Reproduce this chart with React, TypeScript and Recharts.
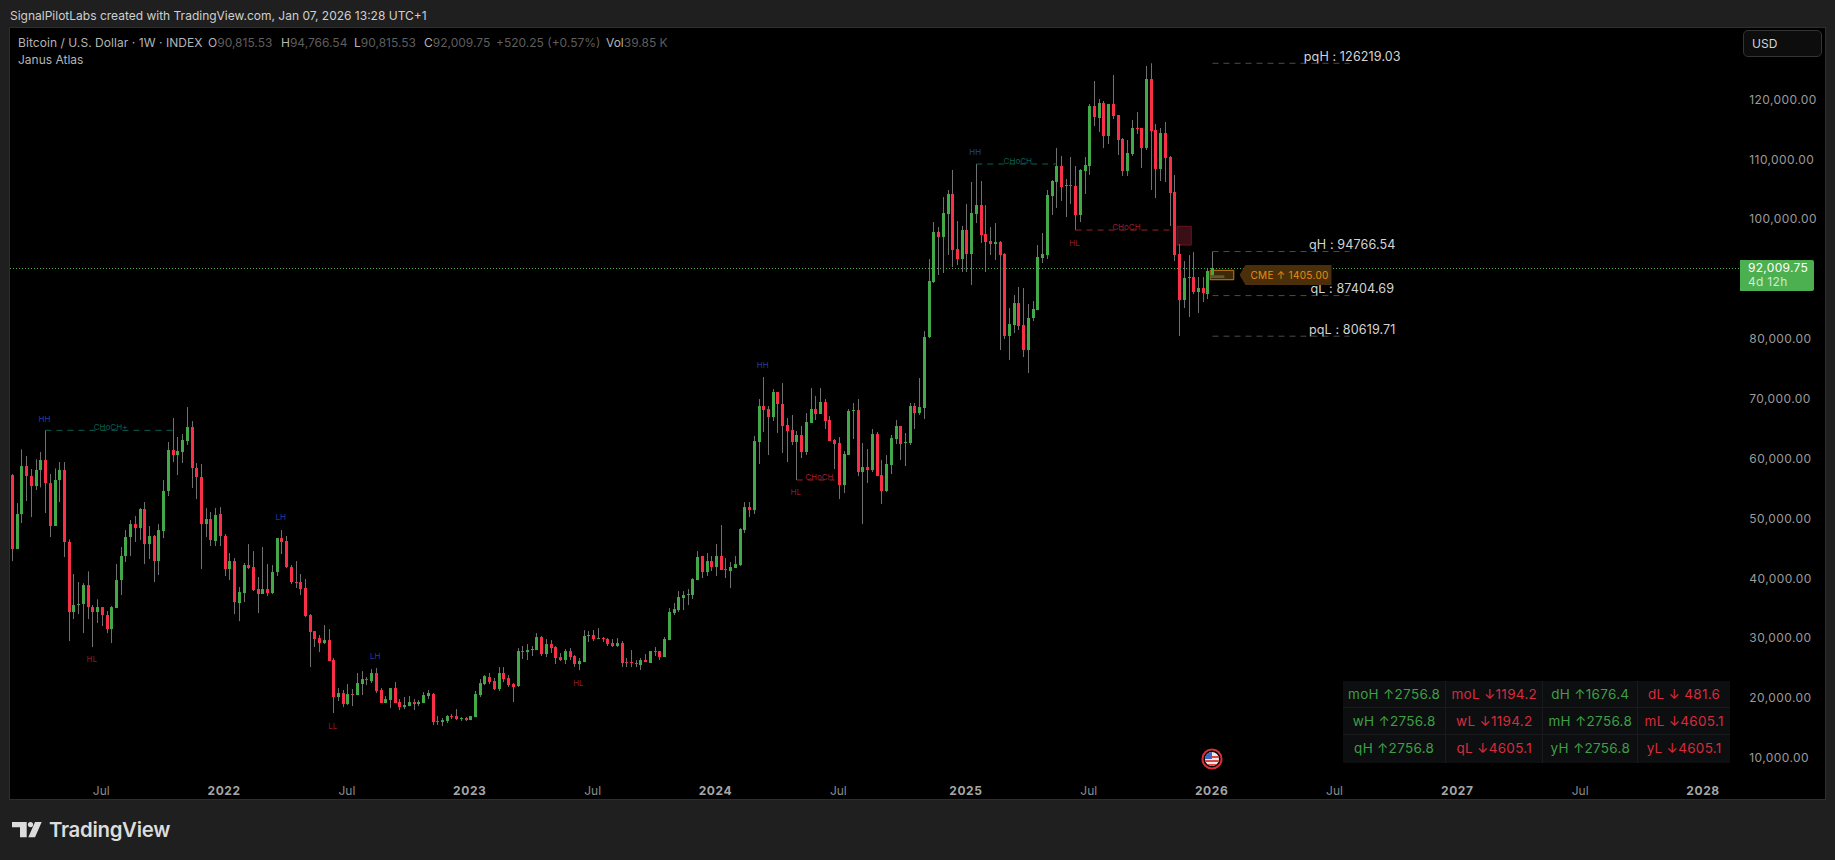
import { Bar, ComposedChart, ReferenceArea, ReferenceDot, ReferenceLine, XAxis, YAxis } from "recharts"

const FONT = "Inter, 'Noto Sans', sans-serif"

const opens = [
  57420, 45055, 50900, 58920, 57250, 55580, 58260, 59930, 56080, 48900,
  56590, 58260, 46230, 34530, 35700, 35870, 39040, 35360, 34530, 35360,
  34030, 31690, 35200, 39880, 43890, 47060, 49230, 48560, 51740, 45890,
  47230, 43050, 48060, 54750, 61600, 60760, 61260, 63100, 65440, 58590,
  57090, 49230, 50070, 46400, 50900, 47230, 41710, 43050, 36030, 37700,
  42380, 42050, 38370, 37540, 38370, 37700, 41210, 46890, 46400, 42050,
  39540, 39540, 38540, 34030, 31350, 30180, 29350, 29850, 26510, 20325,
  20990, 19160, 20830, 20660, 22500, 23330, 23000, 24340, 21500, 19320,
  19824, 21830, 19490, 18650, 18820, 19490, 19160, 19320, 20490, 20830,
  16320, 16150, 16320, 17150, 17150, 16650, 16820, 16480, 16980, 20660,
  22500, 23670, 23000, 21660, 24340, 23500, 22500, 22160, 28010, 27840,
  28180, 28180, 30350, 27510, 29180, 28680, 27010, 26510, 28010, 27180,
  25840, 26170, 30520, 30690, 30020, 30180, 30020, 29350, 28850, 29350,
  26170, 26170, 26010, 25670, 26510, 26010, 28010, 28010, 27010, 29850,
  34360, 34860, 36870, 37370, 37370, 39875, 43890, 41210, 43050, 42050,
  43890, 41710, 41380, 41880, 42380, 48230, 52070, 51570, 62940, 68950,
  68450, 67110, 71290, 69290, 65780, 64940, 62940, 64110, 61270, 66110,
  68450, 67620, 69620, 66610, 63270, 62770, 55750, 60760, 68120, 68280,
  57920, 58760, 58260, 64270, 57420, 54750, 59090, 63440, 65610, 62770,
  62770, 68950, 67780, 68620, 80480, 89670, 98030, 97190, 101030, 104380,
  95180, 93510, 98360, 94350, 101030, 102540, 97690, 96520, 96020, 96360,
  94350, 80650, 82480, 86160, 82480, 78310, 83660, 84990, 93680, 94180,
  104040, 106380, 109050, 105710, 105880, 105710, 100870, 108220, 109050, 119080,
  117080, 119580, 114070, 119420, 117580, 113570, 108220, 111060, 115410, 115410,
  112060, 123590, 115070, 108550, 114570, 110560, 104710, 94350, 86660, 90340,
  90510, 88000, 88670, 87670, 90815.53,
]

const highs = [
  57590, 52740, 61710, 60600, 58420, 60040, 61260, 64890, 57590, 58530,
  59590, 59590, 46670, 40880, 39540, 39370, 41320, 35700, 36650, 35360,
  34700, 35530, 42550, 45390, 48230, 49900, 50570, 51910, 52910, 48900,
  47400, 49230, 56590, 62940, 66950, 63770, 64270, 68790, 66440, 59430,
  59260, 51910, 51240, 51910, 52070, 47560, 44390, 43550, 38710, 42720,
  45890, 44720, 40380, 45390, 42550, 42380, 46890, 48230, 47230, 42380,
  43050, 40880, 40040, 34190, 31350, 30690, 32360, 31690, 26840, 21830,
  21500, 22500, 21660, 24340, 24670, 23670, 25000, 25170, 21830, 20490,
  21830, 22830, 19990, 20330, 20490, 19990, 19820, 21160, 21500, 20990,
  17150, 16820, 17320, 17480, 18320, 16980, 16980, 17150, 21330, 23330,
  24000, 24340, 23500, 25340, 25340, 24000, 22660, 28510, 28850, 29180,
  28850, 31020, 30520, 30020, 29850, 28850, 27680, 28350, 28510, 27340,
  26840, 31520, 31350, 31520, 31850, 30350, 30180, 30020, 30180, 29680,
  26840, 28180, 26510, 26840, 27510, 28010, 28680, 28010, 30350, 35200,
  36030, 38040, 38040, 38370, 40210, 44720, 43890, 44390, 43890, 45890,
  49070, 43550, 42880, 43890, 48560, 52910, 52910, 63940, 70120, 73800,
  68950, 71790, 71290, 72800, 66950, 67450, 64770, 65610, 67780, 71960,
  70620, 71960, 70120, 67280, 63440, 63770, 61430, 68450, 69450, 70120,
  62770, 61770, 65110, 64610, 59930, 60760, 64110, 66610, 65610, 64440,
  69450, 69450, 73630, 81480, 93510, 99700, 98860, 103870, 105040, 108390,
  99860, 99030, 102700, 106380, 109390, 106550, 102540, 98860, 99530, 96520,
  94520, 85330, 87500, 88840, 88670, 86000, 86500, 95850, 97860, 105040,
  106720, 112060, 110720, 106880, 110560, 109050, 108550, 110560, 119420, 123260,
  120250, 119920, 119420, 124260, 117580, 113730, 113400, 116740, 118080, 115410,
  125770, 126219, 116070, 115410, 116410, 110730, 107550, 96020, 93180, 94180,
  94680, 90510, 90510, 92010, 94766.54,
]

const lows = [
  43050, 45055, 49400, 53080, 50400, 54910, 55360, 51070, 47060, 48900,
  52910, 43720, 29680, 33360, 34190, 31020, 33360, 28680, 32690, 32190,
  31020, 29350, 35200, 37370, 42880, 43890, 46230, 46560, 42550, 43380,
  39540, 40710, 46890, 53910, 59590, 57420, 59430, 62430, 55250, 53410,
  41710, 47060, 45560, 45560, 45560, 40540, 39880, 34190, 33020, 36200,
  41710, 38040, 34360, 37540, 37200, 37540, 40540, 44220, 41880, 39210,
  38540, 37370, 33690, 25340, 28680, 27840, 29180, 26340, 17650, 19660,
  18650, 18990, 18820, 20660, 20660, 22330, 22670, 20990, 19320, 19320,
  18490, 19320, 18150, 18320, 18820, 18150, 18820, 19320, 19990, 15650,
  15650, 15480, 15980, 16650, 16480, 16310, 16310, 16480, 16980, 20330,
  22330, 22500, 21490, 21330, 22830, 22000, 19490, 22000, 26670, 26510,
  27180, 28180, 27180, 27010, 27680, 25840, 26340, 25840, 26510, 25340,
  24840, 26170, 29520, 29680, 30020, 29520, 28850, 28680, 28680, 25340,
  25340, 25340, 25340, 24840, 26170, 26010, 27180, 26510, 27010, 29850,
  34030, 34530, 34860, 35700, 36700, 39880, 40210, 40540, 41380, 40540,
  41550, 40210, 38540, 41880, 42220, 47730, 50400, 50900, 59260, 64610,
  60760, 66450, 64440, 61100, 59590, 62430, 56590, 60260, 60760, 66110,
  66610, 67620, 65110, 63100, 58420, 53410, 54410, 60760, 63440, 57250,
  49230, 56090, 57920, 57250, 52580, 54580, 57590, 62600, 59930, 58930,
  62430, 65110, 67450, 66780, 80310, 89500, 90840, 91180, 94180, 92180,
  92510, 91340, 91340, 89170, 99530, 96190, 91340, 94180, 93350, 78310,
  80150, 76640, 81150, 81650, 77140, 74470, 83150, 84990, 92850, 93510,
  100870, 102040, 103210, 100530, 102700, 98360, 99700, 104380, 107550, 115740,
  114740, 112060, 112730, 116910, 110890, 107380, 107380, 110730, 114400, 108720,
  111730, 105050, 103710, 106550, 106380, 99030, 93180, 80650, 85330, 83820,
  87670, 84490, 86330, 86830, 90815.53,
]

const closes = [
  45055, 50900, 58920, 57250, 55580, 58260, 59930, 56080, 48900, 56590,
  58260, 46230, 34530, 35700, 35870, 39040, 35360, 34530, 35360, 34030,
  31690, 35360, 39880, 43890, 47060, 49230, 48560, 51740, 45890, 47230,
  43050, 48230, 54750, 61600, 60760, 61430, 63270, 65440, 58590, 57090,
  49230, 50070, 46560, 50740, 47230, 41710, 43050, 36200, 37870, 42380,
  41880, 38200, 37540, 38370, 37700, 41210, 46890, 46230, 42050, 39540,
  39370, 38370, 33860, 31190, 30020, 29350, 29850, 26340, 20325, 20990,
  19160, 20830, 20660, 22670, 23330, 23170, 24340, 21330, 19320, 19990,
  21830, 19320, 18650, 18990, 19490, 19160, 19490, 20660, 20990, 16150,
  16150, 16480, 17150, 16980, 16650, 16820, 16480, 17150, 20830, 22660,
  23830, 22830, 21660, 24340, 23330, 22330, 22000, 28010, 27840, 28180,
  28350, 30350, 27510, 29180, 28510, 26840, 26510, 28010, 27010, 25840,
  26340, 30520, 30690, 30020, 30180, 30020, 29180, 28850, 29350, 26010,
  26010, 26010, 25840, 26510, 26170, 28010, 27840, 27010, 30020, 34530,
  35030, 37030, 37370, 37540, 40040, 43720, 41210, 43050, 42050, 43890,
  41550, 41550, 42050, 42550, 48400, 52070, 51570, 63100, 68950, 68280,
  67110, 71290, 69290, 65610, 64770, 62940, 64110, 61270, 66280, 68450,
  67620, 69620, 66450, 63100, 62600, 55750, 60930, 68120, 68280, 57920,
  58760, 58260, 64270, 57250, 54750, 59260, 63600, 65610, 62600, 62940,
  68950, 67780, 68780, 80480, 89840, 98030, 97190, 101200, 104380, 95020,
  93510, 98360, 94350, 101200, 102540, 97520, 96360, 96020, 96360, 94180,
  80650, 82650, 86160, 82320, 78310, 83660, 85160, 93850, 94350, 104210,
  106550, 109050, 105550, 105880, 105710, 100870, 108390, 109220, 119080, 117240,
  119580, 114070, 119420, 117410, 113400, 108220, 111230, 115410, 115240, 112060,
  123590, 114900, 108550, 114570, 110390, 104540, 94180, 86660, 90340, 90510,
  88000, 88670, 87830, 91510, 92009.75,
]

const priceTicks = [10000, 20000, 30000, 40000, 50000, 60000, 70000, 80000, 90000, 100000, 110000, 120000]
const timeTicks = ["2021-07-05", "2022-01-03", "2022-07-04", "2023-01-02", "2023-07-03", "2024-01-01", "2024-07-01", "2025-01-06", "2025-07-07", "2026-01-05", "2026-07-06", "2027-01-04", "2027-07-05", "2028-01-03"]
const timeLabels = ["Jul", "2022", "Jul", "2023", "Jul", "2024", "Jul", "2025", "Jul", "2026", "Jul", "2027", "Jul", "2028"]

const lastPrice = 92009.75

// bars are 1-based positions in the candle list
const swingLabels = [
  { bar: 8, price: 66830, text: "HH", color: "#1f3fa8" },
  { bar: 18, price: 26720, text: "HL", color: "#8f1d2a" },
  { bar: 58, price: 50350, text: "LH", color: "#1f3fa8" },
  { bar: 69, price: 15530, text: "LL", color: "#8f1d2a" },
  { bar: 78, price: 27220, text: "LH", color: "#1f3fa8" },
  { bar: 121, price: 22710, text: "HL", color: "#8f1d2a" },
  { bar: 160, price: 75750, text: "HH", color: "#1f3fa8" },
  { bar: 167, price: 54530, text: "HL", color: "#8f1d2a" },
  { bar: 205, price: 111440, text: "HH", color: "#1f3fa8" },
  { bar: 226, price: 96240, text: "HL", color: "#8f1d2a" },
]

const chochLines = [
  { from: 8, to: 35, price: 64890, textBar: 22, textPrice: 65490, text: "CHoCH+", color: "#0b5f50" },
  { from: 167, to: 175, price: 56590, textBar: 172, textPrice: 57140, text: "CHoCH", color: "#9a1f2d" },
  { from: 205, to: 222, price: 109390, textBar: 214, textPrice: 109940, text: "CHoCH", color: "#0b5f50" },
  { from: 226, to: 246, price: 98360, textBar: 237, textPrice: 98910, text: "CHoCH", color: "#9a1f2d" },
]

const levels = [
  { price: 126219.03, text: "pqH : 126219.03" },
  { price: 94766.54, text: "qH : 94766.54" },
  { price: 87404.69, text: "qL : 87404.69" },
  { price: 80619.71, text: "pqL : 80619.71" },
]

const statRows = [
  ["moH ↑2756.8", "moL ↓1194.2", "dH ↑1676.4", "dL ↓ 481.6"],
  ["wH ↑2756.8", "wL ↓1194.2", "mH ↑2756.8", "mL ↓4605.1"],
  ["qH ↑2756.8", "qL ↓4605.1", "yH ↑2756.8", "yL ↓4605.1"],
]

const weeks: string[] = []
for (let i = 0; i < 366; i++) {
  weeks.push(new Date(Date.UTC(2021, 1, 22 + i * 7)).toISOString().slice(0, 10))
}

const rows = weeks.map((date, i) =>
  i < closes.length
    ? {
        date,
        open: opens[i],
        close: closes[i],
        wick: [lows[i], highs[i]],
        body: [Math.min(opens[i], closes[i]), Math.max(opens[i], closes[i])],
      }
    : { date },
)

const weekOf = (bar: number) => weeks[bar - 1]

function Wick(props: any) {
  if (props.height == null || !props.payload.wick) return null
  return <rect x={Math.round(props.x)} y={props.y} width={1} height={Math.max(props.height, 1)} fill="#707070" />
}

function Body(props: any) {
  if (props.height == null || !props.payload.body) return null
  const up = props.payload.close >= props.payload.open
  return <rect x={Math.round(props.x)} y={props.y} width={3} height={Math.max(props.height, 1)} fill={up ? "#43a847" : "#f92f47"} />
}

function TimeTick({ x, y, payload, index }: any) {
  const label = timeLabels[index]
  const isYear = label !== "Jul"
  return (
    <text x={x - 0.9} y={y + 12} textAnchor="middle" fontFamily={FONT} fontSize={12} letterSpacing={isYear ? 0.6 : 0} fontWeight={isYear ? 700 : 400} fill={isYear ? "#a6a6a6" : "#8b8b8b"} data-date={payload.value}>
      {label}
    </text>
  )
}

const absolute = (left: number, top: number, extra = {}) => ({ position: "absolute" as const, left, top, whiteSpace: "nowrap" as const, ...extra })

function LegendLine() {
  const label = { color: "#b4b4b4" }
  const dim = { color: "#5e5e5e" }
  return (
    <div style={{ fontSize: 12, lineHeight: "16px" }}>
      <span style={absolute(18, 35, { ...label, letterSpacing: 0.06 })}>Bitcoin / U.S. Dollar · 1W · INDEX</span>
      <span style={absolute(208, 35, label)}>O<span style={dim}>90,815.53</span></span>
      <span style={absolute(281, 35, label)}>H<span style={dim}>94,766.54</span></span>
      <span style={absolute(354, 35, label)}>L<span style={dim}>90,815.53</span></span>
      <span style={absolute(424, 35, label)}>C<span style={dim}>92,009.75</span></span>
      <span style={absolute(496, 35, dim)}>+520.25 (+0.57%)</span>
      <span style={absolute(606, 35, label)}>Vol<span style={dim}>39.85 K</span></span>
      <span style={absolute(18, 52, label)}>Janus Atlas</span>
    </div>
  )
}

function StatsTable() {
  const columns = [103.3, 97, 95, 91.7]
  return (
    <div style={{ ...absolute(1343, 681), width: 387, height: 81.7, background: "#0d0e10", display: "grid", gridTemplateColumns: columns.map((c) => `${c}px`).join(" "), gridTemplateRows: "27.2px 27.2px 27.3px" }}>
      {statRows.flat().map((cell, i) => (
        <div
          key={cell}
          style={{
            color: i % 2 === 0 ? "#3f9f46" : "#d92b3e",
            fontSize: 13.5,
            letterSpacing: 0.3,
            textAlign: "center",
            lineHeight: "26px",
            borderRight: i % 4 === 3 ? "none" : "1px solid #1a1b1e",
            borderBottom: i >= 8 ? "none" : "1px solid #1a1b1e",
          }}
        >
          {cell}
        </div>
      ))}
    </div>
  )
}

function Flag() {
  return (
    <svg style={absolute(1200, 747)} width={24} height={24} viewBox="0 0 24 24">
      <defs>
        <clipPath id="flagClip">
          <circle cx={12} cy={12} r={7} />
        </clipPath>
      </defs>
      <circle cx={12} cy={12} r={9.5} fill="#000" stroke="#d9303c" strokeWidth={2} />
      <g clipPath="url(#flagClip)">
        <rect x={5} y={5} width={14} height={14} fill="#e9e9e9" />
        <rect x={5} y={9} width={14} height={2} fill="#e2453f" />
        <rect x={5} y={13} width={14} height={2} fill="#e2453f" />
        <rect x={5} y={17} width={14} height={2} fill="#e2453f" />
        <rect x={5} y={5} width={7} height={7} fill="#3a66c4" />
      </g>
    </svg>
  )
}

export default function App() {
  return (
    <div style={{ position: "absolute", left: 0, top: 0, width: 1835, height: 860, overflow: "hidden", background: "#1f1f1f", fontFamily: FONT }}>
      <div style={absolute(10, 8, { color: "#cfcfcf", fontSize: 12, lineHeight: "16px" })}>SignalPilotLabs created with TradingView.com, Jan 07, 2026 13:28 UTC+1</div>

      <div style={{ position: "absolute", left: 10, top: 28, width: 1815, height: 771, background: "#000" }}>
        <ComposedChart width={1815} height={771} data={rows} margin={{ top: 0, right: 0, bottom: 0, left: 0 }}>
          <XAxis xAxisId="wick" dataKey="date" hide />
          <XAxis xAxisId="body" dataKey="date" ticks={timeTicks} interval={0} height={24} axisLine={false} tickLine={false} tick={<TimeTick />} />
          <YAxis
            orientation="right"
            width={85.65}
            domain={[7302, 132114]}
            ticks={priceTicks}
            interval={0}
            axisLine={false}
            tickLine={false}
            tickSize={0}
            tickMargin={10}
            tick={{ fill: "#9b9b9b", fontSize: 12, fontFamily: FONT, letterSpacing: 0.4, dy: -1 }}
            tickFormatter={(v: number) => v.toLocaleString("en-US", { minimumFractionDigits: 2 })}
          />
          <ReferenceArea xAxisId="body" x1={weekOf(248)} x2={weekOf(250)} y1={95850} y2={98980} fill="#3a0e14" fillOpacity={1} stroke="#6a1620" />
          <ReferenceLine xAxisId="body" y={lastPrice} stroke="#4caf50" strokeDasharray="1 2" shapeRendering="crispEdges" />
          {chochLines.map((l) => (
            <ReferenceLine
              key={l.from}
              xAxisId="body"
              segment={[
                { x: weekOf(l.from), y: l.price },
                { x: weekOf(l.to), y: l.price },
              ]}
              stroke={l.color}
              strokeDasharray="6 5"
            />
          ))}
          {levels.map((l) => (
            <ReferenceLine
              key={l.text}
              xAxisId="body"
              segment={[
                { x: weekOf(255), y: l.price },
                { x: weekOf(284), y: l.price },
              ]}
              stroke="#4b4b4b"
              strokeDasharray="6 5"
            />
          ))}
          <Bar xAxisId="wick" dataKey="wick" barSize={1} shape={<Wick />} isAnimationActive={false} />
          <Bar xAxisId="body" dataKey="body" barSize={3} shape={<Body />} isAnimationActive={false} />
          <ReferenceArea xAxisId="body" x1={weekOf(255)} x2={weekOf(259)} y1={90055} y2={91626} fill="#3d2808" fillOpacity={1} stroke="#c77a12" />
          <ReferenceArea xAxisId="body" x1={weekOf(255)} x2={weekOf(257)} y1={90340} y2={90790} fill="#5d5a38" fillOpacity={1} />
          {swingLabels.map((s) => (
            <ReferenceDot key={s.bar} xAxisId="body" x={weekOf(s.bar)} y={s.price} r={0} label={{ value: s.text, position: "center", dx: -1, fill: s.color, fontSize: 8, fontFamily: FONT }} />
          ))}
          {chochLines.map((l) => (
            <ReferenceDot key={l.text + l.from} xAxisId="body" x={weekOf(l.textBar)} y={l.textPrice} r={0} label={{ value: l.text, position: "center", dx: -1, fill: l.color, fontSize: 8, fontFamily: FONT }} />
          ))}
          {levels.map((l) => (
            <ReferenceDot key={l.text} xAxisId="body" x={weekOf(285)} y={l.price} r={0} label={{ value: l.text, position: "top", offset: 2.5, dx: -2, fill: "#d4d4d4", fontSize: 12.6, letterSpacing: 0.1, fontFamily: FONT }} />
          ))}
        </ComposedChart>
      </div>

      {/* frame around the pane */}
      <div style={{ position: "absolute", left: 9, top: 27, width: 1815, height: 771, border: "1px solid #2e2e2e", pointerEvents: "none" }} />

      <LegendLine />

      <div style={{ ...absolute(1743, 30), width: 79, height: 27, boxSizing: "border-box", border: "1px solid #343434", borderRadius: 5, background: "#0d0d0d", color: "#d4d4d4", fontSize: 12, fontWeight: 400, lineHeight: "25px", paddingLeft: 8 }}>USD</div>

      <div style={{ ...absolute(1740, 260), width: 74, height: 31, background: "#4caf50", borderRadius: "0 2px 2px 0", paddingLeft: 8, boxSizing: "border-box", fontSize: 12, lineHeight: "14px", paddingTop: 1, letterSpacing: 0.3 }}>
        <div style={{ color: "#fff" }}>92,009.75</div>
        <div style={{ color: "#cdeccf" }}>4d 12h</div>
      </div>

      <div style={{ ...absolute(1239.5, 265), width: 92, height: 20, background: "#4a2f0a", clipPath: "polygon(0 50%, 6px 0, 100% 0, 100% 100%, 6px 100%)", color: "#e68d14", fontSize: 10, letterSpacing: 0.3, lineHeight: "20px", paddingLeft: 11, boxSizing: "border-box" }}>CME ↑ 1405.00</div>

      <StatsTable />
      <Flag />

      <svg style={absolute(12, 822)} width={31} height={16} viewBox="0 0 31 16">
        <path d="M0 0 H14.7 V15.3 H8 V5.2 H0 Z" fill="#dcdcdc" />
        <circle cx={18.5} cy={2.6} r={2.6} fill="#dcdcdc" />
        <path d="M23 0 H29.7 L23 15.3 H16.3 Z" fill="#dcdcdc" />
      </svg>
      <div style={absolute(49, 817, { color: "#dcdcdc", fontSize: 20.4, fontWeight: 600, lineHeight: "26px", letterSpacing: -0.3 })}>TradingView</div>
    </div>
  )
}
